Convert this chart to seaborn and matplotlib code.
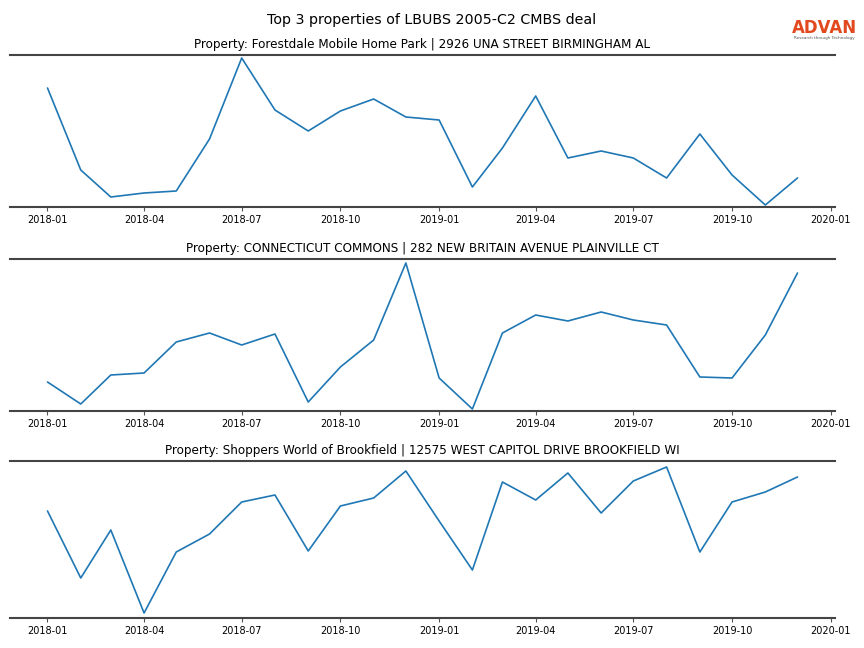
import pandas as pd
import seaborn as sns
import matplotlib.pyplot as plt
import matplotlib.dates as mdates

# monthly visit index per property (arbitrary units)
months = pd.date_range('2018-01-01', '2019-12-01', freq='MS')

titles = [
    'Property: Forestdale Mobile Home Park | 2926 UNA STREET BIRMINGHAM AL',
    'Property: CONNECTICUT COMMONS | 282 NEW BRITAIN AVENUE PLAINVILLE CT',
    'Property: Shoppers World of Brookfield | 12575 WEST CAPITOL DRIVE BROOKFIELD WI',
]

forestdale = [119, 37, 10, 14, 16, 68, 149, 97, 76, 96, 108, 90,
              87, 20, 59, 111, 49, 56, 49, 29, 73, 32, 2, 29]
ct_commons = [29, 7, 36, 38, 69, 78, 66, 77, 9, 44, 71, 148,
              33, 2, 78, 96, 90, 99, 91, 86, 34, 33, 76, 138]
brookfield = [107, 40, 88, 5, 66, 84, 116, 123, 67, 112, 120, 147,
              97, 48, 136, 118, 145, 105, 137, 151, 66, 116, 126, 141]

series = [forestdale, ct_commons, brookfield]
ylims = [(0, 152), (0, 152), (0, 157)]

sns.set_style('white', rc={'text.color': 'black', 'xtick.color': '#555555',
                           'axes.labelcolor': 'black'})

fig = plt.figure(figsize=(8.64, 6.48), dpi=100)
# axes boxes in figure fractions (left, bottom, width, height)
boxes = [
    (10 / 864, 1 - 207 / 648, 825 / 864, 152 / 648),
    (10 / 864, 1 - 411 / 648, 825 / 864, 152 / 648),
    (10 / 864, 1 - 618 / 648, 825 / 864, 157 / 648),
]

for box, title, vals, yl in zip(boxes, titles, series, ylims):
    ax = fig.add_axes(box)
    df = pd.DataFrame({'month': months, 'visits': vals})
    sns.lineplot(data=df, x='month', y='visits', ax=ax, color='#1f77b4', linewidth=1.2)
    ax.set_ylim(*yl)
    ax.set_title(title, fontsize=8.65, pad=5, color='black')
    ax.set_xlabel('')
    ax.set_ylabel('')
    ax.set_yticks([])
    ax.xaxis.set_major_locator(mdates.MonthLocator(bymonth=[1, 4, 7, 10]))
    ax.xaxis.set_major_formatter(mdates.DateFormatter('%Y-%m'))
    ax.tick_params(axis='x', labelsize=7, length=3, width=0.8, color='#555555',
                   labelcolor='black', bottom=True, direction='out', pad=3)
    for side in ['left', 'right']:
        ax.spines[side].set_visible(False)
    for side in ['top', 'bottom']:
        ax.spines[side].set_color('#444444')
        ax.spines[side].set_linewidth(1.5)

fig.text(0.5, 1 - 20 / 648, 'Top 3 properties of LBUBS 2005-C2 CMBS deal',
         ha='center', va='center', fontsize=10.3, color='black')

# logo
fig.text(824 / 864, 1 - 28 / 648, 'ADVAN', ha='center', va='center',
         fontsize=12, color='#e2491f', fontweight='bold')
fig.text(824 / 864, 1 - 38 / 648, 'Research through Technology', ha='center', va='center',
         fontsize=3, color='#555555')

plt.savefig('out.png', dpi=100)
